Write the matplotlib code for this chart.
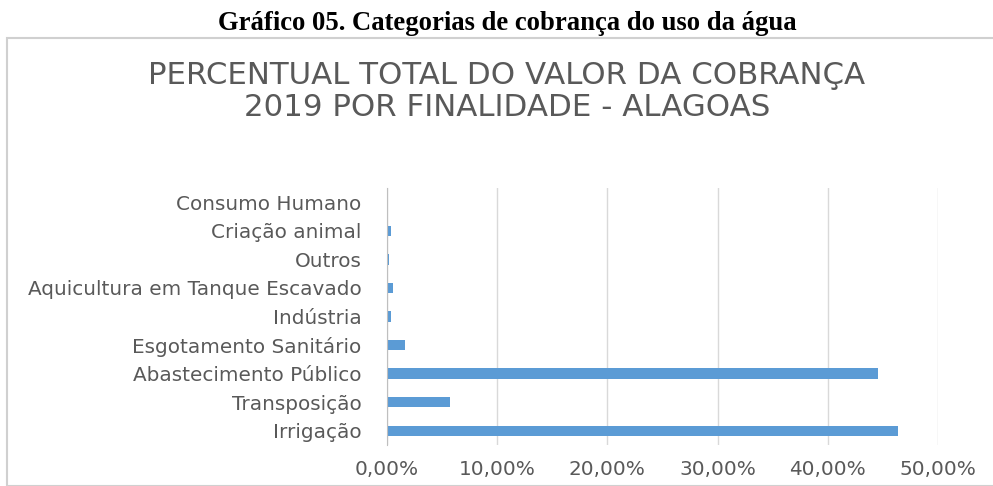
import numpy as np
import matplotlib.pyplot as plt
from matplotlib.patches import Rectangle
from matplotlib.ticker import FuncFormatter

categorias = ['Irrigação', 'Transposição', 'Abastecimento Público',
              'Esgotamento Sanitário', 'Indústria', 'Aquicultura em Tanque Escavado',
              'Outros', 'Criação animal', 'Consumo Humano']
percentual = [46.4, 5.7, 44.6, 1.65, 0.33, 0.57, 0.18, 0.33, 0.0]
xticks = [0, 10, 20, 30, 40, 50]

fig = plt.figure(figsize=(9.93, 4.86), dpi=100)
W, H = 993., 486.

# moldura do grafico
fig.patches.append(Rectangle((7/W, 0), 1.0, 1 - 38/H, transform=fig.transFigure,
                             fill=False, edgecolor='#d0d0d0', linewidth=1.5))

fig.text(507/W, 1 - 24/H, 'Gráfico 05. Categorias de cobrança do uso da água',
         ha='center', va='center', fontsize=19.2, fontweight='bold',
         family='Liberation Serif')
fig.text(507/W, 1 - 75/H, 'PERCENTUAL TOTAL DO VALOR DA COBRANÇA',
         ha='center', va='center', fontsize=22.2, color='#595959', family='DejaVu Sans')
fig.text(507/W, 1 - 108/H, '2019 POR FINALIDADE - ALAGOAS',
         ha='center', va='center', fontsize=22.2, color='#595959', family='DejaVu Sans')

ax = fig.add_axes([387/W, 1 - 445/H, (938 - 387)/W, (445 - 188)/H])
y = np.arange(len(categorias))
ax.barh(y, percentual, height=0.36, color='#5b9bd5')
ax.set_xlim(0, 50)
ax.set_ylim(-0.5, len(categorias) - 0.5)
ax.set_yticks(y)
ax.set_yticklabels(categorias, family='DejaVu Sans', fontsize=14.4, color='#595959')
ax.set_xticks(xticks)
ax.xaxis.set_major_formatter(FuncFormatter(lambda v, p: f'{v:.2f}%'.replace('.', ',')))
for lab in ax.get_xticklabels():
    lab.set_family('DejaVu Sans')
    lab.set_fontsize(14.4)
    lab.set_color('#595959')
ax.tick_params(length=0)
ax.tick_params(axis='x', pad=11)
ax.tick_params(axis='y', pad=18.5)
ax.grid(axis='x', color='#d9d9d9', linewidth=1)
ax.set_axisbelow(True)
for s in ['top', 'right', 'bottom']:
    ax.spines[s].set_visible(False)
ax.spines['left'].set_color('#bfbfbf')

fig.savefig('out.png', dpi=100)
